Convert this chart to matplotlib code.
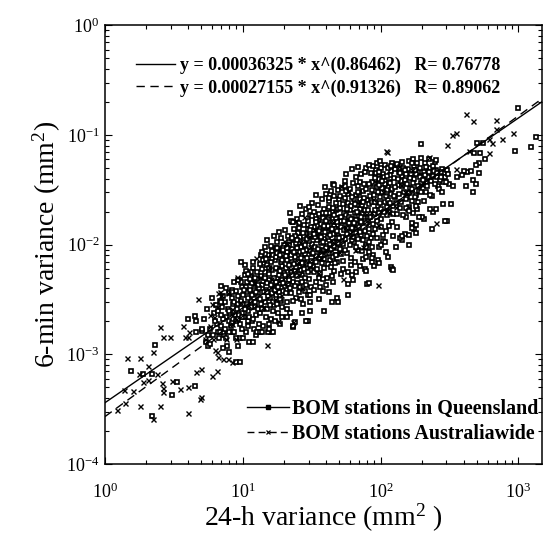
import matplotlib
matplotlib.use("Agg")
import matplotlib.pyplot as plt
from matplotlib.lines import Line2D
import numpy as np

plt.rcParams['font.family'] = 'serif'
plt.rcParams['font.serif'] = ['Liberation Serif', 'DejaVu Serif']
plt.rcParams['mathtext.fontset'] = 'custom'
plt.rcParams['mathtext.rm'] = 'Liberation Serif'
plt.rcParams['mathtext.it'] = 'Liberation Serif:italic'
plt.rcParams['mathtext.bf'] = 'Liberation Serif:bold'

# ---- fitted power laws (from the legend) ----
fit_qld = (0.00036325, 0.86462, 0.76778)
fit_aus = (0.00027155, 0.91326, 0.89062)
x_range = (1.0, 1480.0)

# ---- BOM stations in Queensland (squares): core cloud ----
qld_core = [
    (6.2,2.4e-3),(6.5,1.9e-3),(6.8,3.1e-3),(7.1,2.7e-3),(7.3,1.5e-3),(7.6,2.2e-3),(7.9,3.6e-3),(8.2,1.8e-3),
    (8.5,2.9e-3),(8.8,2.3e-3),(6.9,4.2e-3),(7.7,1.2e-3),(8.6,4.6e-3),(8.9,1.4e-3),(6.4,2.8e-3),
    (9.1,2.6e-3),(9.3,3.4e-3),(9.5,1.9e-3),(9.8,4.1e-3),(10.0,2.9e-3),(10.2,2.2e-3),(10.4,5.3e-3),(10.6,1.6e-3),
    (10.8,3.7e-3),(11.0,2.5e-3),(11.2,4.6e-3),(11.4,3.1e-3),(11.6,2.0e-3),(11.8,6.1e-3),(12.0,3.9e-3),(12.2,2.7e-3),
    (12.4,1.5e-3),(12.6,4.9e-3),(9.6,1.4e-3),(10.3,6.5e-3),(11.1,1.3e-3),(12.1,3.3e-3),(9.9,2.4e-3),(10.9,2.0e-3),
    (11.5,5.6e-3),(12.5,2.3e-3),
    (13.0,3.6e-3),(13.3,2.4e-3),(13.5,5.2e-3),(13.8,4.3e-3),(14.0,1.8e-3),(14.2,6.8e-3),(14.5,3.0e-3),(14.8,3.9e-3),
    (15.0,2.6e-3),(15.3,8.1e-3),(15.5,4.8e-3),(15.8,3.3e-3),(16.0,2.1e-3),(16.3,5.9e-3),(16.6,4.1e-3),(16.9,2.8e-3),
    (17.2,7.3e-3),(17.5,3.5e-3),(17.8,5.0e-3),(18.1,2.4e-3),(18.4,9.2e-3),(18.7,4.4e-3),(19.0,3.1e-3),(19.3,6.4e-3),
    (19.6,3.8e-3),(19.9,5.5e-3),(13.6,2.9e-3),(14.6,5.6e-3),(15.6,1.9e-3),(16.5,3.0e-3),(17.4,4.6e-3),(18.3,3.7e-3),
    (19.2,2.2e-3),(14.1,4.7e-3),(16.1,6.9e-3),(18.0,6.0e-3),(15.2,3.4e-3),(17.0,2.0e-3),
    (20.3,4.2e-3),(20.7,6.1e-3),(21.0,3.0e-3),(21.4,8.4e-3),(21.8,5.1e-3),(22.2,3.6e-3),(22.6,7.0e-3),(23.0,4.6e-3),
    (23.5,11.0e-3),(24.0,5.7e-3),(24.5,3.3e-3),(25.0,8.0e-3),(25.5,6.3e-3),(26.0,4.1e-3),(26.5,9.6e-3),(27.0,5.3e-3),
    (27.6,7.4e-3),(28.2,3.8e-3),(28.8,12.5e-3),(29.4,6.6e-3),(30.0,4.9e-3),(30.6,8.8e-3),(31.2,5.9e-3),(31.8,10.2e-3),
    (20.9,2.6e-3),(22.9,9.1e-3),(24.8,4.5e-3),(26.8,6.8e-3),(28.5,5.0e-3),(30.3,13.8e-3),(23.8,7.8e-3),(27.3,2.9e-3),
    (29.7,3.5e-3),(21.6,4.8e-3),(25.8,5.4e-3),(31.5,7.1e-3),(22.4,5.6e-3),(26.2,11.8e-3),(29.0,9.0e-3),(24.3,6.2e-3),
    (32.5,6.4e-3),(33.3,9.5e-3),(34.0,4.6e-3),(34.8,12.8e-3),(35.5,7.6e-3),(36.3,5.5e-3),(37.0,15.5e-3),(37.8,8.6e-3),
    (38.6,6.1e-3),(39.4,11.2e-3),(40.2,4.3e-3),(41.0,9.8e-3),(41.9,18.0e-3),(42.8,7.2e-3),(43.7,13.5e-3),(44.6,5.2e-3),
    (45.5,10.6e-3),(46.5,8.1e-3),(47.5,20.5e-3),(48.5,6.9e-3),(49.5,12.0e-3),(33.8,7.9e-3),(35.2,16.8e-3),(36.8,10.4e-3),
    (38.2,3.8e-3),(39.9,14.2e-3),(41.4,6.6e-3),(43.2,10.1e-3),(44.9,16.2e-3),(46.0,5.8e-3),(47.9,9.3e-3),(49.0,15.0e-3),
    (34.4,11.0e-3),(37.4,6.8e-3),(40.6,8.3e-3),(42.3,22.0e-3),(45.1,7.7e-3),(48.2,11.4e-3),(36.0,8.9e-3),(39.0,9.0e-3),
    (50.5,9.2e-3),(51.8,14.6e-3),(53.0,7.1e-3),(54.3,19.5e-3),(55.6,11.3e-3),(57.0,8.4e-3),(58.4,24.0e-3),(59.8,13.0e-3),
    (61.3,6.5e-3),(62.8,17.2e-3),(64.3,10.5e-3),(65.9,28.5e-3),(67.5,15.2e-3),(69.1,8.9e-3),(70.8,21.0e-3),(72.5,12.2e-3),
    (74.3,31.0e-3),(76.1,17.8e-3),(78.0,10.0e-3),(79.5,25.5e-3),(52.4,11.8e-3),(56.1,16.0e-3),(60.2,20.8e-3),(63.5,13.8e-3),
    (66.7,9.6e-3),(70.0,14.4e-3),(73.6,19.0e-3),(77.0,13.4e-3),(54.9,26.5e-3),(68.2,34.0e-3),(58.0,5.6e-3),(75.0,7.4e-3),
    (62.0,11.0e-3),(71.5,26.0e-3),
    (81,16.5e-3),(83,23.5e-3),(85,11.5e-3),(87,31.5e-3),(89,19.0e-3),(91,14.0e-3),(93,38.5e-3),(95,22.5e-3),
    (97,9.5e-3),(99,27.0e-3),(101,17.0e-3),(104,44.0e-3),(107,24.5e-3),(110,13.2e-3),(113,33.5e-3),(116,20.0e-3),
    (119,29.0e-3),(122,16.0e-3),(125,40.5e-3),(84,27.5e-3),(90,35.5e-3),(96,43.5e-3),(102,30.5e-3),(108,36.0e-3),
    (114,25.5e-3),(120,47.0e-3),(88,12.4e-3),(100,21.0e-3),(111,18.5e-3),(124,22.5e-3),(92,48.0e-3),(105,10.8e-3),
    (128,27.0e-3),(133,35.0e-3),(138,21.5e-3),(143,42.0e-3),(148,30.0e-3),(153,18.0e-3),(158,48.5e-3),(164,33.0e-3),
    (170,25.0e-3),(176,40.0e-3),(182,28.5e-3),(188,46.0e-3),(195,36.5e-3),(131,14.5e-3),(146,50.0e-3),(161,22.0e-3),
    (174,52.0e-3),(190,31.0e-3),(141,38.0e-3),(167,44.0e-3),(199,42.5e-3),(136,46.0e-3),(155,27.0e-3),(184,21.0e-3),
    (205,46.0e-3),(215,37.0e-3),(228,50.0e-3),(240,42.0e-3),(252,47.5e-3),(265,44.0e-3),(278,49.0e-3),(290,45.0e-3),
    (305,48.0e-3),(212,30.5e-3),(236,27.5e-3),(260,34.0e-3),(285,37.5e-3),(222,41.0e-3),
]

# ---- Queensland squares: more of the dense band ----
qld_core_b = [
    (5.2,2.1e-3),(5.5,2.6e-3),(5.8,1.7e-3),(6.0,3.3e-3),(6.3,2.0e-3),(6.6,2.5e-3),(6.7,1.4e-3),(7.0,1.8e-3),
    (7.2,2.1e-3),(7.4,3.0e-3),(7.8,2.6e-3),(8.0,2.0e-3),(8.3,3.3e-3),(8.4,1.6e-3),(5.4,1.3e-3),(6.1,1.5e-3),
    (7.5,4.0e-3),(8.1,2.4e-3),
    (8.7,3.0e-3),(8.9,2.0e-3),(9.2,2.9e-3),(9.4,2.3e-3),(9.7,3.1e-3),(9.9,1.7e-3),(10.1,3.5e-3),(10.3,2.6e-3),
    (10.5,4.1e-3),(10.7,2.9e-3),(10.9,3.3e-3),(11.1,2.2e-3),(11.3,3.9e-3),(11.5,2.7e-3),(11.7,3.5e-3),(11.9,2.1e-3),
    (12.1,4.4e-3),(12.3,3.0e-3),(12.5,3.7e-3),(12.8,2.6e-3),(9.0,3.8e-3),(9.6,4.8e-3),(10.6,5.8e-3),(11.9,7.0e-3),
    (12.7,5.6e-3),(10.0,1.4e-3),(11.0,1.8e-3),(12.0,1.7e-3),(9.3,1.2e-3),
    (13.1,4.0e-3),(13.4,3.2e-3),(13.7,6.0e-3),(13.9,2.6e-3),(14.3,3.7e-3),(14.4,5.0e-3),(14.7,2.2e-3),(14.9,4.5e-3),
    (15.1,3.7e-3),(15.4,5.4e-3),(15.7,2.8e-3),(15.9,4.3e-3),(16.2,3.6e-3),(16.4,7.5e-3),(16.7,2.5e-3),(16.8,5.0e-3),
    (17.1,3.9e-3),(17.3,6.1e-3),(17.6,2.9e-3),(17.9,4.1e-3),(18.2,5.3e-3),(18.5,3.2e-3),(18.8,7.0e-3),(19.1,4.8e-3),
    (19.4,2.7e-3),(19.7,4.5e-3),(13.2,1.9e-3),(14.4,8.3e-3),(15.9,9.8e-3),(17.7,10.5e-3),(19.5,8.2e-3),(16.0,1.6e-3),
    (18.6,1.9e-3),(14.9,6.5e-3),(17.9,8.8e-3),(19.0,11.5e-3),
    (20.1,5.3e-3),(20.5,3.6e-3),(20.9,7.2e-3),(21.2,4.4e-3),(21.7,6.5e-3),(22.0,4.0e-3),(22.5,8.1e-3),(22.8,5.3e-3),
    (23.2,3.1e-3),(23.6,6.6e-3),(24.1,4.2e-3),(24.6,9.4e-3),(24.9,5.2e-3),(25.3,7.0e-3),(25.7,3.7e-3),(26.1,8.5e-3),
    (26.6,5.9e-3),(27.1,4.6e-3),(27.5,10.5e-3),(27.9,6.0e-3),(28.4,8.2e-3),(28.9,4.3e-3),(29.3,7.6e-3),(29.8,5.6e-3),
    (30.2,10.8e-3),(30.7,6.5e-3),(31.1,4.1e-3),(31.6,8.2e-3),(21.3,12.0e-3),(23.4,14.0e-3),(25.2,12.8e-3),(27.8,15.0e-3),
    (29.9,16.5e-3),(22.1,2.4e-3),(26.4,3.2e-3),(30.9,3.0e-3),(24.4,10.4e-3),(28.0,12.0e-3),
    (32.2,8.4e-3),(32.9,5.6e-3),(33.6,11.8e-3),(34.2,7.0e-3),(34.9,9.2e-3),(35.7,5.0e-3),(36.5,12.0e-3),(37.2,8.0e-3),
    (38.0,10.6e-3),(38.8,7.4e-3),(39.6,13.0e-3),(40.4,9.4e-3),(41.2,11.8e-3),(42.0,8.4e-3),(43.0,15.0e-3),(44.0,9.1e-3),
    (44.8,12.6e-3),(45.8,9.7e-3),(46.8,14.0e-3),(47.7,8.0e-3),(48.8,10.3e-3),(49.7,17.5e-3),(33.0,14.5e-3),(35.9,19.0e-3),
    (38.4,17.5e-3),(41.6,14.8e-3),(44.2,19.8e-3),(47.1,24.0e-3),(49.2,21.0e-3),(36.6,4.1e-3),(40.9,5.0e-3),(43.9,6.2e-3),
    (46.7,6.8e-3),(34.6,6.0e-3),(42.6,12.2e-3),(48.0,13.2e-3),
    (50.2,11.6e-3),(51.2,8.2e-3),(52.0,16.6e-3),(53.4,10.2e-3),(54.0,13.6e-3),(55.2,9.0e-3),(56.4,18.6e-3),(57.5,12.6e-3),
    (58.9,15.8e-3),(60.0,10.0e-3),(61.0,22.5e-3),(62.3,14.2e-3),(63.1,11.8e-3),(64.8,19.6e-3),(66.2,12.8e-3),(67.0,23.0e-3),
    (68.6,11.2e-3),(69.6,18.2e-3),(71.0,13.0e-3),(72.0,16.2e-3),(73.0,22.8e-3),(74.8,11.0e-3),(76.5,20.5e-3),(78.5,15.8e-3),
    (79.9,12.0e-3),(51.0,21.5e-3),(57.8,29.0e-3),(63.9,26.0e-3),(69.9,29.5e-3),(75.8,26.8e-3),(53.8,6.0e-3),(60.8,7.6e-3),
    (65.2,7.0e-3),(72.8,8.8e-3),(78.2,7.8e-3),(59.0,17.8e-3),(66.0,16.8e-3),
    (80.5,20.5e-3),(82,13.8e-3),(84.5,18.0e-3),(86,24.5e-3),(88,15.5e-3),(89.5,28.5e-3),(91.5,20.8e-3),(93.5,16.5e-3),
    (95.5,30.0e-3),(97.5,19.5e-3),(99.5,23.8e-3),(101.5,14.5e-3),(103,33.0e-3),(106,20.0e-3),(109,28.0e-3),(112,22.0e-3),
    (115,37.5e-3),(118,24.0e-3),(121,32.0e-3),(123,19.0e-3),(126,27.5e-3),(86.5,37.0e-3),(94,33.5e-3),(98,39.5e-3),
    (106,41.0e-3),(117,43.0e-3),(82.5,10.5e-3),(94.5,11.5e-3),(103.5,12.2e-3),(115.5,14.8e-3),(122.5,12.0e-3),
    (90.5,24.5e-3),(110.5,31.5e-3),
    (127,33.5e-3),(130,24.0e-3),(134,40.0e-3),(137,29.0e-3),(140,24.5e-3),(144,34.0e-3),(150,39.0e-3),(152,26.0e-3),
    (156,36.0e-3),(160,29.5e-3),(163,40.5e-3),(168,32.0e-3),(172,36.5e-3),(178,27.0e-3),(181,44.5e-3),(186,34.0e-3),
    (192,41.0e-3),(197,30.5e-3),(132,19.0e-3),(145,18.5e-3),(157,21.0e-3),(171,19.5e-3),(187,24.5e-3),(139,45.0e-3),
    (154,44.5e-3),(179,48.0e-3),(193,50.0e-3),
    (203,38.5e-3),(210,43.0e-3),(218,34.0e-3),(225,45.5e-3),(232,38.0e-3),(244,46.5e-3),(248,36.0e-3),(256,41.5e-3),
    (270,38.5e-3),(275,46.0e-3),(295,41.0e-3),(310,44.0e-3),(208,25.0e-3),(230,28.5e-3),
]

# ---- Queensland squares: upper and lower parts of the band ----
qld_band = [
    (13.5,8.0e-3),(14.5,9.5e-3),(15.0,11.0e-3),(16.2,8.7e-3),(16.8,12.0e-3),(18.2,13.0e-3),(19.8,10.0e-3),(14.0,7.2e-3),
    (17.3,9.4e-3),
    (20.4,13.5e-3),(21.8,10.5e-3),(22.6,16.0e-3),(23.9,12.0e-3),(24.7,17.0e-3),(25.6,14.2e-3),(26.9,19.0e-3),(27.4,12.8e-3),
    (28.6,21.0e-3),(29.5,14.0e-3),(30.8,18.5e-3),(31.7,24.0e-3),(22.0,19.5e-3),(26.0,22.5e-3),(30.0,22.0e-3),
    (32.8,20.0e-3),(33.9,17.0e-3),(35.0,23.0e-3),(36.2,14.0e-3),(37.5,26.0e-3),(38.9,21.0e-3),(40.0,29.0e-3),(41.3,17.0e-3),
    (42.5,25.0e-3),(43.5,31.0e-3),(45.0,21.5e-3),(46.2,28.0e-3),(47.6,17.5e-3),(48.9,31.5e-3),(49.9,26.0e-3),(34.0,28.5e-3),
    (39.5,33.5e-3),(45.5,35.5e-3),
    (50.8,28.0e-3),(52.7,33.0e-3),(53.6,23.5e-3),(55.4,38.0e-3),(57.2,21.0e-3),(59.5,32.5e-3),(61.8,27.0e-3),(63.0,36.5e-3),
    (65.0,23.5e-3),(66.4,41.0e-3),(68.9,30.0e-3),(70.4,37.5e-3),(72.2,44.0e-3),(74.0,24.5e-3),(75.6,36.0e-3),(77.4,45.5e-3),
    (79.0,32.5e-3),(56.5,44.5e-3),(62.5,49.0e-3),(69.0,51.0e-3),
    (82,36.0e-3),(85,45.0e-3),(88,52.0e-3),(91,40.5e-3),(94,55.0e-3),(97,35.0e-3),(100,49.5e-3),(103,38.0e-3),
    (107,53.5e-3),(111,42.0e-3),(114,50.0e-3),(118,36.5e-3),(122,55.5e-3),(127,48.5e-3),(99,58.0e-3),
    (131,53.0e-3),(142,56.5e-3),(150,48.0e-3),(160,58.0e-3),(172,60.0e-3),(185,55.0e-3),(196,61.0e-3),(210,56.0e-3),
    (226,60.5e-3),(242,52.5e-3),(215,51.0e-3),(250,57.0e-3),
    (33,3.9e-3),(38,4.9e-3),(45,4.6e-3),(52,5.4e-3),(58,4.4e-3),(66,5.6e-3),(71,6.4e-3),(77,6.0e-3),
    (88,8.0e-3),(95,7.2e-3),(110,8.6e-3),(130,9.5e-3),(150,12.5e-3),(175,14.0e-3),(205,17.0e-3),(240,20.0e-3),
    (27,2.4e-3),(31,3.5e-3),(36,3.2e-3),
    (10.2,3.9e-3),(10.8,4.6e-3),(11.4,5.1e-3),(12.2,5.0e-3),(12.9,4.3e-3),(13.4,6.6e-3),(14.8,7.4e-3),(15.6,6.1e-3),
    (16.6,8.0e-3),(17.5,7.8e-3),(18.6,5.8e-3),(19.4,7.3e-3),(20.6,8.8e-3),(21.5,10.0e-3),(22.7,11.4e-3),(23.4,8.6e-3),
    (24.9,11.0e-3),(26.3,7.6e-3),(27.2,8.8e-3),(28.2,10.0e-3),(29.2,11.2e-3),(30.5,12.0e-3),(31.3,14.5e-3),(33.1,12.6e-3),
    (34.1,16.0e-3),(35.8,13.2e-3),(37.1,11.8e-3),(38.7,14.8e-3),(40.5,16.5e-3),(42.1,19.5e-3),(44.2,14.0e-3),(46.3,18.5e-3),
    (48.4,16.0e-3),(51.5,18.0e-3),(54.6,16.4e-3),(57.3,14.2e-3),(60.6,17.0e-3),(64.0,15.8e-3),(67.8,19.8e-3),(71.8,18.0e-3),
]

# ---- Queensland squares: edges and outliers ----
qld_edge = [
    (1.54,7.0e-4),(2.30,1.21e-3),(2.19,2.73e-4),(1.88,6.6e-4),(2.19,6.6e-4),(3.33,5.6e-4),(3.06,4.3e-4),(4.49,5.2e-4),
    (4.0,2.1e-3),(4.5,2.26e-3),(4.6,2.0e-3),(4.6,1.6e-3),(5.1,1.65e-3),(5.6,1.2e-3),(5.76,1.25e-3),(7.2,1.15e-3),
    (8.0,1.05e-3),(9.0,8.6e-4),(9.5,8.6e-4),(7.0,3.0e-3),(7.0,2.3e-3),(8.0,2.5e-3),(6.6,1.6e-3),(7.2,1.6e-3),
    (8.0,1.6e-3),(8.7,1.6e-3),(11.8,1.3e-3),(12.6,1.6e-3),(13.3,1.6e-3),(15.2,1.6e-3),(16.5,1.6e-3),(7.2,3.4e-3),
    (8.4,3.9e-3),(29.6,2.0e-3),(30.5,2.5e-3),(23,1.77e-3),(39,2.5e-3),(57.6,3.5e-3),(80,4.4e-3),(48,3.3e-3),
    (49,3.0e-3),(42.5,3.7e-3),(44.3,3.0e-3),(8.4,3.7e-3),(5.1,1.7e-3),(5.6,1.5e-3),(6.8,1.6e-3),(7.4,1.7e-3),
    (7.6,1.4e-3),(8.4,1.95e-3),(9.2,2.1e-3),(9.8,2.2e-3),(13.7,8.6e-3),(9.7,6.9e-3),(9.7,4.6e-3),(9.2,4.8e-3),
    (11.0,5.4e-3),(11.6,4.5e-3),(11.3,4.9e-3),(17.6,8.4e-3),(18.5,8.1e-3),(19.5,9.3e-3),(21,8.6e-3),(20.5,7.9e-3),
    (25.8,0.0159),(29,2.0e-3),(23,1.8e-3),(23.8,1.96e-3),(13.7,1.6e-3),(15.6,1.7e-3),(21,2.2e-3),
    (46,0.035),(55,0.034),(56,0.031),(22.3,0.0166),(32,0.0183),(38,0.0195),(40,0.0195),(42.5,0.0267),
    (30.5,0.0137),(17.6,9.4e-3),(19.5,9.0e-3),(20.8,9.4e-3),(79,0.050),(83,0.053),(93,0.045),(98,0.046),
    (120,0.052),(120,6.3e-3),(122,6.0e-3),(79,9.6e-3),(87,9.6e-3),(144,0.011),
    (327,0.0236),(282,0.0236),(227,0.0213),(253,0.0213),(301,0.0164),(237,0.014),(160,0.010),(114,7.8e-3),
    (124,5.9e-3),(82,4.5e-3),(62.8,4.8e-3),(61.6,5.3e-3),(79,5.7e-3),(86,7.0e-3),(98,6.8e-3),(90,6.4e-3),
    (83,8.5e-3),(86,7.6e-3),(101,0.010),(107,0.0105),(138,0.0114),(144,0.0119),(162,0.0123),(182,0.0129),
    (168,0.0143),(170,0.0158),(182,0.0152),(200,0.0179),(191,0.0179),(154,0.0217),(182,0.0226),(162,0.0201),
    (23,0.0162),
    (198,0.083),(253,0.059),(480,0.069),(530,0.069),(950,0.072),(520,0.056),(495,0.053),(570,0.060),
    (425,0.046),(405,0.047),(455,0.047),(360,0.041),(390,0.043),(515,0.045),(465,0.039),(495,0.036),
    (465,0.030),(420,0.034),(315,0.036),(335,0.034),(300,0.037),(275,0.041),(258,0.045),(267,0.032),
    (280,0.030),(295,0.0164),(170,0.056),(132,0.054),(1350,0.096),(1230,0.078),(505,0.085),(550,0.085),
    (1000,0.175),
]

# ---- BOM stations Australiawide (crosses) ----
aus_low = [
    (1.22,3.1e-4),(1.40,3.6e-4),(1.44,9.3e-4),(1.79,9.3e-4),(1.37,4.7e-4),(1.6,4.6e-4),(1.79,3.4e-4),(2.23,2.6e-4),
    (2.5,3.4e-4),(2.05,7.9e-4),(2.23,1.05e-3),(2.5,1.76e-3),(2.63,1.43e-3),(2.96,1.43e-3),(1.76,6.6e-4),(2.38,6.7e-4),
    (1.88,5.6e-4),(2.05,5.9e-4),(2.59,5.5e-4),(2.63,4.9e-4),(3.06,5.7e-4),(2.63,4.5e-4),(3.5,4.8e-4),(4.0,5.1e-4),
    (4.0,2.9e-4),(4.9,3.9e-4),(5.0,4.1e-4),(4.6,6.9e-4),(5.0,7.3e-4),(5.95,6.3e-4),(6.5,7.0e-4),(3.67,1.8e-3),
    (4.0,1.45e-3),(3.8,1.43e-3),(4.1,1.6e-3),(5.76,1.8e-3),(5.76,2.3e-3),(6.15,2.2e-3),(6.5,2.7e-3),(5.95,2.9e-3),
    (6.05,1.37e-3),(5.3,1.37e-3),(6.3,1.1e-3),(6.5,1.05e-3),(6.6,9.5e-4),(7.2,9.0e-4),(7.8,9.0e-4),(8.4,8.6e-4),
    (8.3,2.3e-3),(8.4,1.9e-3),(9.0,2.1e-3),(7.6,1.37e-3),(9.0,1.37e-3),(14.9,1.23e-3),(4.7,3.2e-3),(6.6,3.6e-3),
    (7.8,3.6e-3),(8.3,2.6e-3),(6.8,3.7e-3),(7.0,3.5e-3),(9.1,5.1e-3),(13.3,5.1e-3),
]
aus_core = [
    (20.5,0.0104),(20,0.0109),(20.8,0.0102),(26,0.0105),(33,0.014),(45,0.016),(60,0.012),(70,0.025),
    (85,0.02),(105,0.03),(140,0.035),(170,0.048),(58,0.031),(40,0.009),(12,4.5e-3),(17,3.2e-3),
    (25,7e-3),(35,5.5e-3),(50,0.0085),(75,0.0095),(95,0.015),(130,0.022),(53,4.9e-3),(52,0.034),
    (135,0.052),(24,0.0163),(11,2.8e-3),(15.5,6.2e-3),(30,0.012),(18,2.0e-3),(23,1.96e-3),(96,4.3e-3),
    (9.5,3.0e-3),(14,2.7e-3),(16,4.9e-3),(19,3.5e-3),(22,6.0e-3),(27,4.0e-3),(31,9.5e-3),(37,7.5e-3),
    (44,11.0e-3),(55,14.5e-3),(65,9.0e-3),(78,19.0e-3),(88,26.0e-3),(115,20.0e-3),(150,30.0e-3),(200,35.0e-3),
    (12.5,7.5e-3),(28,18.0e-3),
]
aus_high = [
    (420,0.155),(470,0.134),(330,0.10),(350,0.104),(305,0.081),(110,0.072),(226,0.063),(690,0.113),
    (910,0.104),(760,0.092),(615,0.092),(640,0.085),(435,0.072),(615,0.069),(350,0.049),(253,0.0158),
    (112,0.070),(690,0.137),
]

fig = plt.figure(figsize=(5.44, 5.36), dpi=100)
ax = fig.add_axes([0.193, 0.134, 0.803, 0.819])

qx, qy = zip(*(qld_core + qld_core_b + qld_band + qld_edge))
ax.plot(qx, qy, ls='none', marker='s', ms=3.5, mfc='white', mec='black', mew=1.2, zorder=2)
axx, axy = zip(*(aus_low + aus_core + aus_high))
ax.plot(axx, axy, ls='none', marker='x', ms=3.6, mec='black', mew=1.0, zorder=3)

xs = np.logspace(np.log10(x_range[0]), np.log10(x_range[1]), 200)
l1, = ax.plot(xs, fit_qld[0] * xs ** fit_qld[1], color='black', lw=1.0, zorder=4)
l2, = ax.plot(xs, fit_aus[0] * xs ** fit_aus[1], color='black', lw=1.0, dashes=(6, 4), zorder=4)

ax.set_xscale('log')
ax.set_yscale('log')
ax.set_xlim(*x_range)
ax.set_ylim(1e-4, 1.0)

ax.tick_params(which='both', direction='in', top=True, right=True, labelsize=13, width=0.8)
ax.tick_params(which='major', length=5)
ax.tick_params(which='minor', length=3)
ax.tick_params(axis='x', which='both', pad=13)
ax.tick_params(axis='y', which='both', pad=4)
for s in ax.spines.values():
    s.set_linewidth(1.1)

ax.set_xlabel('24-h variance (mm$^2$ )', fontsize=20, labelpad=0)
ax.set_ylabel('6-min variance (mm$^2$)', fontsize=20, labelpad=2)

lab1 = 'y = %.8f * x^(%.5f)   R= %.5f' % fit_qld
lab2 = 'y = %.8f * x^(%.5f)   R= %.5f' % fit_aus
leg1 = ax.legend([l1, l2], [lab1, lab2], loc='upper left', bbox_to_anchor=(0.07, 0.928),
                 frameon=False, prop={'weight': 'bold', 'size': 13}, handlelength=2.2,
                 handletextpad=0.28, labelspacing=0.3, borderpad=0, borderaxespad=0)
ax.add_artist(leg1)

h1 = Line2D([], [], color='black', lw=1.0, marker='s', ms=2.5, mfc='black')
h2 = Line2D([], [], color='black', lw=1.0, dashes=(5, 3), marker='x', ms=3, mew=0.9)
ax.legend([h1, h2], ['BOM stations in Queensland', 'BOM stations Australiawide'], loc='upper left',
          bbox_to_anchor=(0.325, 0.148), frameon=False, prop={'weight': 'bold', 'size': 14.4},
          handlelength=2.1, handletextpad=0.15, labelspacing=0.22, borderpad=0, borderaxespad=0)

fig.savefig('out.png', dpi=100)
